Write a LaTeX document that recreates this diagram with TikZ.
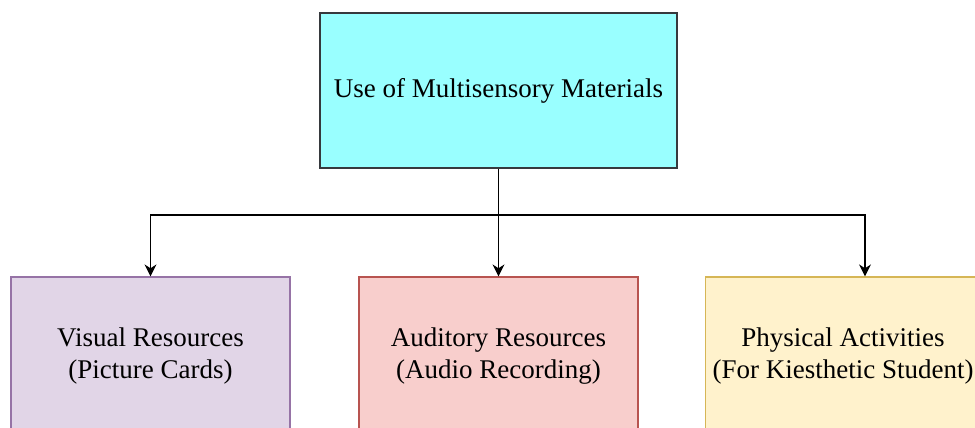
\documentclass[tikz,border=0pt]{standalone}
\usepackage{fontspec}
\setmainfont{Liberation Serif}
\usetikzlibrary{arrows.meta}

\definecolor{mainfill}{HTML}{99FFFF}
\definecolor{mainline}{HTML}{36393D}
\definecolor{visfill}{HTML}{E1D5E7}
\definecolor{visline}{HTML}{9673A6}
\definecolor{audfill}{HTML}{F8CECC}
\definecolor{audline}{HTML}{B85450}
\definecolor{phyfill}{HTML}{FFF2CC}
\definecolor{phyline}{HTML}{D6B656}

\begin{document}
\begin{tikzpicture}[
            > = {Stealth[length=6pt, width=6pt]}, % arrow head style
            x = 0.5pt, y = -0.5pt, % one unit per pixel, y going down
            line width = 0.75pt % line style
        ]

        \tikzstyle{every node}=[
            font = \fontsize{13.5}{16}\selectfont,
            align = center,
            line width = 0.6pt
        ]
        \tikzstyle{topbox}=[
            draw = mainline,
            fill = mainfill,
            line width = 0.9pt,
            minimum width = 178.5pt,
            minimum height = 77.5pt
        ]
        \tikzstyle{subbox}=[
            minimum width = 139.5pt,
            minimum height = 79pt
        ]

	\useasboundingbox (0,0) rectangle (975,428);

	\node[topbox] (main) at (498.5,90.5) {Use of Multisensory Materials};
	\node[subbox, draw=visline, fill=visfill] (visual) at (150.5,356) {Visual Resources\\(Picture Cards)};
	\node[subbox, draw=audline, fill=audfill] (audio) at (498.5,356) {Auditory Resources\\(Audio Recording)};
	\node[subbox, draw=phyline, fill=phyfill, minimum width=135pt] (physical) at (843,356) {Physical Activities\\(For Kiesthetic Student)};

	\coordinate (split) at (498.5,215);
	\coordinate (kin) at (865,215);

        \draw (main.south) -- (split);
        \draw[->] (split) -| (visual.north);
        \draw[->] (split) -- (audio.north);
        \draw[->] (split) -- (kin) -- (kin |- physical.north);

    \end{tikzpicture}
\end{document}
